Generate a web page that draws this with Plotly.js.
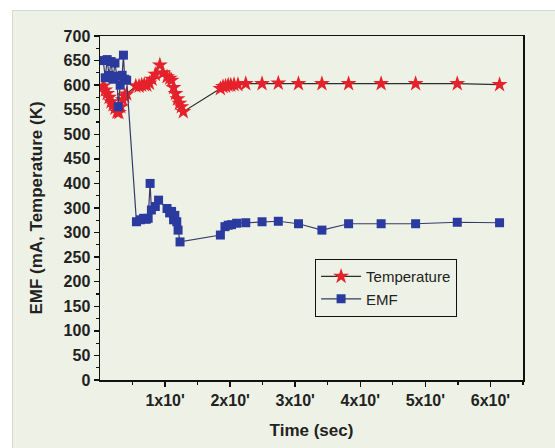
<!DOCTYPE html>
<html>
<head>
<meta charset="utf-8">
<script src="https://cdn.plot.ly/plotly-3.0.1.min.js"></script>
<style>
  html, body { margin:0; padding:0; background:#ffffff; }
  #panel { position:absolute; left:12px; top:10px; width:543px; height:438px; background:#eef2e6; border-left:1px solid #d6dacf; border-top:1px solid #d6dacf; box-sizing:border-box; }
  #chart { position:absolute; left:0; top:0; width:555px; height:448px; }
</style>
</head>
<body>
<div id="panel"></div>
<div id="chart"></div>
<script>
// Time in units of 10' s
const tempTime = [0.05, 0.08, 0.11, 0.14, 0.17, 0.20, 0.23, 0.26, 0.29, 0.32, 0.35, 0.38, 0.41,
                  0.55, 0.60, 0.64, 0.68, 0.72, 0.76, 0.80, 0.85, 0.92, 0.97, 1.03, 1.07, 1.10,
                  1.13, 1.16, 1.19, 1.22, 1.25, 1.28,
                  1.85, 1.89, 1.93, 1.97, 2.01, 2.06, 2.12, 2.24, 2.49, 2.74, 3.05, 3.41, 3.82,
                  4.32, 4.85, 5.49, 6.14];
const temperature = [598, 590, 583, 575, 566, 560, 553, 545, 544, 556, 570, 578, 582,
                     598, 598, 600, 601, 600, 604, 612, 622, 641, 625, 617, 614, 610,
                     595, 583, 572, 563, 556, 546,
                     593, 597, 598, 600, 600, 601, 601, 603, 603, 604, 603, 603, 603,
                     603, 603, 603, 601];

const emfTime = [0.05, 0.08, 0.11, 0.14, 0.17, 0.20, 0.23, 0.26, 0.28, 0.31, 0.34, 0.36, 0.38, 0.41,
                 0.56, 0.62, 0.67, 0.71, 0.74, 0.77, 0.79, 0.85, 0.90, 1.03, 1.07, 1.10, 1.13,
                 1.15, 1.18, 1.20, 1.23,
                 1.85, 1.92, 1.97, 2.02, 2.10, 2.24, 2.49, 2.74, 3.05, 3.41, 3.82, 4.32, 4.85,
                 5.49, 6.14];
const emf = [650, 615, 652, 620, 648, 612, 645, 618, 556, 600, 620, 661, 612, 610,
             322, 326, 329, 327, 329, 400, 346, 353, 366, 349, 340, 343, 326,
             335, 322, 305, 281,
             295, 312, 315, 316, 319, 320, 322, 323, 318, 305, 318, 318, 318,
             321, 320];

const xTickVals = [1, 2, 3, 4, 5, 6];
const xTickText = ["1x10'", "2x10'", "3x10'", "4x10'", "5x10'", "6x10'"];
const yTickVals = [0, 50, 100, 150, 200, 250, 300, 350, 400, 450, 500, 550, 600, 650, 700];
const yTickText = ["0", "50", "100", "150", "200", "250", "300", "300", "400", "450", "500", "550", "600", "650", "700"];

const FONT = "Liberation Sans, Arial, sans-serif";

const traces = [
  {
    x: tempTime, y: temperature, name: 'Temperature', type: 'scatter', mode: 'lines+markers',
    line: { color: '#2e2e2e', width: 1.2 },
    marker: { symbol: 'star', size: 12, color: '#e5212b', line: { width: 0 } }
  },
  {
    x: emfTime, y: emf, name: 'EMF', type: 'scatter', mode: 'lines+markers',
    line: { color: '#3a3a66', width: 1.2 },
    marker: { symbol: 'square', size: 9, color: '#2b3a9e', line: { width: 0 } }
  }
];

const layout = {
  width: 555, height: 448,
  margin: { l: 100, r: 32, t: 36, b: 68 },
  paper_bgcolor: 'rgba(0,0,0,0)',
  plot_bgcolor: 'rgba(0,0,0,0)',
  showlegend: true,
  legend: {
    x: 0.508, y: 0.352, xanchor: 'left', yanchor: 'top',
    bgcolor: 'rgba(0,0,0,0)', bordercolor: '#111', borderwidth: 1.2,
    font: { family: FONT, size: 15, color: '#222' },
    itemwidth: 40, tracegroupgap: 0
  },
  xaxis: {
    range: [0, 6.5], showgrid: false, zeroline: false,
    showline: true, linecolor: '#111', linewidth: 1.5, mirror: true,
    ticks: 'outside', ticklen: 5, tickwidth: 1.5, tickcolor: '#111',
    tickmode: 'array', tickvals: xTickVals, ticktext: xTickText,
    minor: { tickmode: 'linear', tick0: 0.5, dtick: 1, ticks: 'outside', ticklen: 3, tickwidth: 1.2, tickcolor: '#111' },
    tickfont: { family: FONT, size: 16, weight: 'bold', color: '#222' },
    title: { text: 'Time (sec)', font: { family: FONT, size: 17, weight: 'bold', color: '#222' }, standoff: 16 }
  },
  yaxis: {
    range: [0, 700], showgrid: false, zeroline: false,
    showline: true, linecolor: '#111', linewidth: 1.5, mirror: true,
    ticks: 'outside', ticklen: 5, tickwidth: 1.5, tickcolor: '#111',
    tickmode: 'array', tickvals: yTickVals, ticktext: yTickText,
    minor: { tickmode: 'linear', tick0: 25, dtick: 50, ticks: 'outside', ticklen: 3, tickwidth: 1.2, tickcolor: '#111' },
    tickfont: { family: FONT, size: 16, weight: 'bold', color: '#222' },
    title: { text: 'EMF (mA, Temperature (K)', font: { family: FONT, size: 17, weight: 'bold', color: '#222' }, standoff: 16 }
  }
};

Plotly.newPlot('chart', traces, layout, { displayModeBar: false, staticPlot: true });
</script>
</body>
</html>
